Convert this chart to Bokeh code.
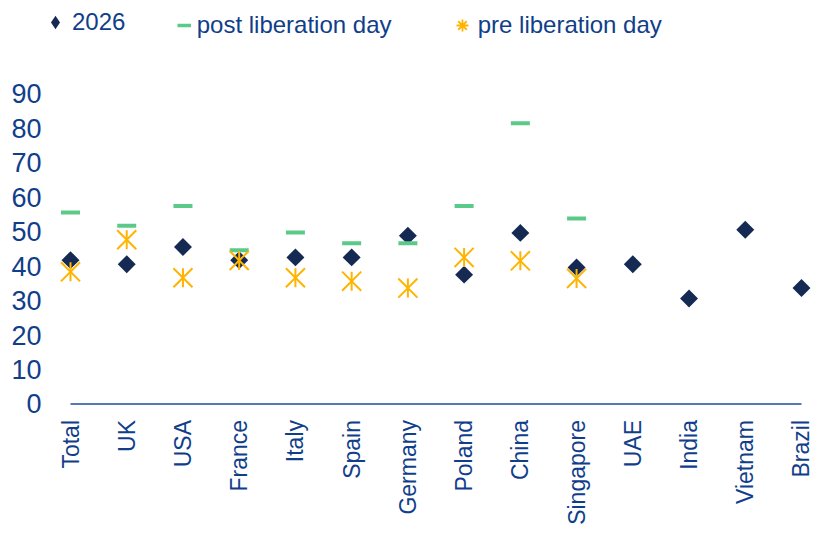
import numpy as np
from bokeh.plotting import figure
from bokeh.models import Range1d, FixedTicker, Legend, LegendItem, ColumnDataSource
from bokeh.core.properties import value
from bokeh.embed import file_html
from bokeh.resources import INLINE

nan = float("nan")

# ---- data ----
countries = ["Total", "UK", "USA", "France", "Italy", "Spain", "Germany",
             "Poland", "China", "Singapore", "UAE", "India", "Vietnam", "Brazil"]
y2026 = [41.7, 40.5, 45.5, 41.7, 42.5, 42.5, 48.8, 37.5, 49.6, 39.6, 40.5, 30.6, 50.5, 33.6]
post_liberation = [55.5, 51.7, 57.4, 44.6, 49.7, 46.6, 46.6, 57.4, 81.4, 53.8, nan, nan, nan, nan]
pre_liberation = [38.3, 47.6, 36.6, 41.6, 36.6, 35.6, 33.6, 42.5, 41.5, 36.4, nan, nan, nan, nan]
y_ticks = [0, 10, 20, 30, 40, 50, 60, 70, 80, 90]
series_labels = ["2026", "post liberation day", "pre liberation day"]

NAVY = "#142a52"
TEXT = "#103e8a"
AXIS = "#1d4f9b"
GREEN = "#5bca89"
YELLOW = "#ffb400"
FONT = "Liberation Sans"

idx = list(range(len(countries)))
src = ColumnDataSource(dict(
    x=idx, name=countries, y26=y2026, post=post_liberation, pre=pre_liberation,
    base=[0] * len(countries),
))

p = figure(width=816, height=527, output_backend="svg", toolbar_location=None,
           x_range=Range1d(-0.3557, 13.2668), y_range=Range1d(-2.464, 116.96),
           x_axis_location=None,
           min_border_left=50, min_border_right=0, min_border_top=0, min_border_bottom=115)
p.outline_line_color = None
p.xgrid.visible = False
p.ygrid.visible = False
p.background_fill_color = "white"
p.border_fill_color = "white"

ax = p.yaxis[0]
ax.ticker = FixedTicker(ticks=y_ticks)
ax.axis_line_color = None
ax.major_tick_line_color = None
ax.minor_tick_line_color = None
ax.major_tick_out = 0
ax.major_tick_in = 0
ax.major_label_standoff = 9
ax.major_label_text_font = FONT
ax.major_label_text_font_size = "27px"
ax.major_label_text_color = TEXT

# category axis baseline from first to last category
p.segment(x0=[idx[0]], y0=[0], x1=[idx[-1]], y1=[0], line_color=AXIS, line_width=1.6)

# category labels (rotated)
p.text(x="x", y="base", text="name", source=src, angle=np.pi / 2,
       text_align="right", text_baseline="middle", y_offset=16,
       text_font=value(FONT), text_font_size=value("23px"), text_color=TEXT,
       level="overlay")

r26 = p.scatter(x="x", y="y26", source=src, marker="square", angle=np.pi / 4,
                size=12.7, fill_color=NAVY, line_color=None)
rpost = p.scatter(x="x", y="post", source=src, marker="dash", size=19,
                  line_color=GREEN, line_width=4)
rpre_x = p.scatter(x="x", y="pre", source=src, marker="x", size=27,
                   line_color=YELLOW, line_width=2)
rpre_v = p.scatter(x="x", y="pre", source=src, marker="dash", angle=np.pi / 2, size=19,
                   line_color=YELLOW, line_width=2)

# legend-only glyphs (no visible data)
y26_leg = p.scatter(x=[nan], y=[nan], marker="diamond", fill_color=NAVY, line_color=None)
post_leg = p.line(x=[nan, nan], y=[nan, nan], line_color=GREEN, line_width=3.5)
pre_leg = p.scatter(x=[nan], y=[nan], marker="asterisk", line_color=YELLOW, line_width=1.8)


def make_legend(label, renderers, loc, gw, gh, standoff):
    lg = Legend(items=[LegendItem(label=label, renderers=renderers)],
                location=loc, orientation="horizontal",
                border_line_color=None, background_fill_alpha=0,
                padding=0, margin=0, spacing=0,
                glyph_width=gw, glyph_height=gh, label_height=22, label_standoff=standoff,
                label_text_font=FONT, label_text_font_size="24px",
                label_text_color=TEXT)
    p.add_layout(lg)


make_legend(series_labels[0], [y26_leg], (-12, 373), 34, 34, 0)
make_legend(series_labels[1], [post_leg], (126.7, 372.5), 14, 30, 6)
make_legend(series_labels[2], [pre_leg], (396.7, 372), 30, 30, 1)

open("out.html", "w").write(file_html(p, INLINE))
